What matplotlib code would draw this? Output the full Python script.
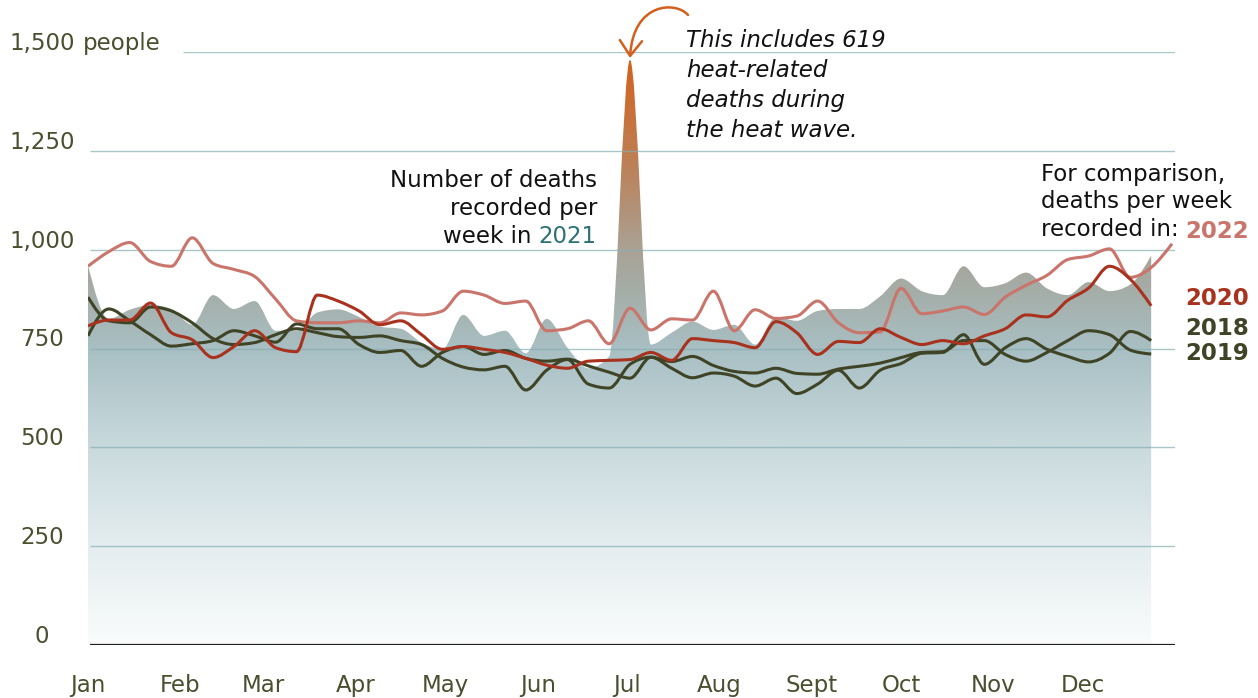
import numpy as np
import matplotlib.pyplot as plt
from matplotlib.path import Path
from matplotlib.patches import PathPatch, FancyArrowPatch
from matplotlib.colors import LinearSegmentedColormap
from matplotlib.transforms import IdentityTransform

plt.rcParams['font.family'] = ['DejaVu Sans']

W, H = 1258, 698

# x axis: day of year
months = ['Jan', 'Feb', 'Mar', 'Apr', 'May', 'Jun', 'Jul', 'Aug', 'Sept', 'Oct', 'Nov', 'Dec']
month_start = [0, 31, 59, 90, 120, 151, 181, 212, 243, 273, 304, 334]

y_ticks = [0, 250, 500, 750, 1000, 1250, 1500]
y_labels = ['0', '250', '500', '750', '1,000', '1,250', '1,500']

# weekly deaths
deaths_2021 = [960, 825, 848, 860, 850, 810, 885, 850, 870, 795, 795, 841, 849,
               830, 805, 800, 765, 748, 835, 782, 795, 738, 825, 752, 700, 730, 1480,
               760, 790, 818, 797, 810, 760, 830, 820, 845, 850, 850, 882,
               927, 895, 885, 958, 905, 915, 942, 902, 885, 918, 895, 912, 985]
deaths_2022 = [958, 995, 1018, 970, 958, 1030, 965, 950, 932, 875, 820, 815, 815,
               820, 815, 840, 835, 845, 895, 885, 864, 870, 795, 800, 820, 762, 852,
               797, 825, 822, 895, 795, 848, 826, 832, 870, 815, 790, 792,
               902, 838, 845, 855, 836, 880, 910, 935, 975, 984, 1002, 930, 955, 1015]
deaths_2020 = [807, 822, 822, 865, 790, 772, 727, 755, 795, 752, 742, 885, 870,
               845, 810, 820, 785, 748, 755, 748, 740, 725, 708, 700, 718, 720, 722,
               740, 720, 775, 770, 765, 752, 818, 790, 735, 768, 765, 800,
               778, 760, 770, 762, 782, 800, 835, 830, 872, 903, 958, 925, 858]
deaths_2018 = [782, 850, 820, 785, 756, 762, 770, 795, 782, 766, 812, 800, 800,
               760, 740, 745, 705, 740, 755, 735, 745, 725, 718, 723, 706, 690, 675,
               728, 700, 676, 688, 680, 655, 675, 636, 660, 695, 650, 695,
               712, 738, 740, 785, 710, 752, 775, 748, 730, 716, 738, 793, 770]
deaths_2019 = [880, 820, 815, 855, 845, 815, 775, 760, 765, 785, 800, 790, 780,
               778, 782, 770, 760, 725, 703, 696, 705, 645, 695, 722, 660, 650, 710,
               728, 717, 730, 707, 692, 688, 700, 687, 685, 698, 705, 713,
               727, 740, 742, 770, 770, 735, 718, 740, 770, 795, 785, 746, 736]

c2022 = '#c9756b'
c2020 = '#a8321e'
c_olive = '#3f4426'
c_tick = '#4b4e2f'
c_teal = '#2e7075'
c_orange = '#d35f1d'


def smooth(x, y):
    # monotone cubic curve through the points, as bezier segments
    x = np.asarray(x, float)
    y = np.asarray(y, float)
    n = len(x)
    h = np.diff(x)
    s = np.diff(y) / h
    m = np.zeros(n)
    for i in range(1, n - 1):
        s0, s1 = s[i - 1], s[i]
        p = (s0 * h[i] + s1 * h[i - 1]) / (h[i - 1] + h[i])
        m[i] = (np.sign(s0) + np.sign(s1)) * min(abs(s0), abs(s1), 0.5 * abs(p))
    m[0] = (3 * s[0] - m[1]) / 2
    m[-1] = (3 * s[-1] - m[-2]) / 2
    verts = [(x[0], y[0])]
    codes = [Path.MOVETO]
    for i in range(n - 1):
        d = h[i] / 3
        verts += [(x[i] + d, y[i] + m[i] * d), (x[i + 1] - d, y[i + 1] - m[i + 1] * d), (x[i + 1], y[i + 1])]
        codes += [Path.CURVE4] * 3
    return verts, codes


fig = plt.figure(figsize=(W / 100, H / 100), dpi=100)
ax = fig.add_axes([88 / W, 53 / H, (1175 - 88) / W, 593 / H])
ax.set_xlim(0, 365)
ax.set_ylim(0, 1500)
ax.axis('off')

# 2021 area with vertical gradient
x21 = 7 * np.arange(len(deaths_2021))
v, c = smooth(x21, deaths_2021)
v += [(x21[-1], 0), (x21[0], 0), (x21[0], deaths_2021[0])]
c += [Path.LINETO, Path.LINETO, Path.CLOSEPOLY]
area = PathPatch(Path(v, c), facecolor='none', edgecolor='none')
ax.add_patch(area)
cmap = LinearSegmentedColormap.from_list('heat', [
    (0.0, '#fafcfc'), (250 / 1500, '#e4edef'), (500 / 1500, '#c9dadd'),
    (750 / 1500, '#a8bfc3'), (900 / 1500, '#a5ada7'), (1000 / 1500, '#aaa295'),
    (1200 / 1500, '#ba835c'), (1.0, '#d65f18')])
grad = np.linspace(0, 1, 512).reshape(-1, 1)
im = ax.imshow(grad, extent=[0, 365, 0, 1500], origin='lower', aspect='auto',
               cmap=cmap, zorder=1)
im.set_clip_path(area)
ax.set_xlim(0, 365)
ax.set_ylim(0, 1500)

# gridlines
for t in y_ticks[1:]:
    start = 32 if t == 1500 else 0.7
    ax.hlines(t, start, 365, color='#86aeb4', alpha=0.7, lw=1, zorder=2)
ax.hlines(0, 0.7, 365, color='#1e1e1e', lw=1.6, zorder=4)

# comparison lines
for data, col in [(deaths_2022, c2022), (deaths_2018, c_olive),
                  (deaths_2019, c_olive), (deaths_2020, c2020)]:
    xs = 7 * np.arange(len(data))
    v, c = smooth(xs, data)
    ax.add_patch(PathPatch(Path(v, c), fill=False, edgecolor=col, lw=2.2,
                           capstyle='butt', zorder=3))

fs = 16.5
# y tick labels
for t, lab in zip(y_ticks, y_labels):
    ax.annotate(lab, xy=(42 / W, t), xycoords=('figure fraction', 'data'),
                xytext=(0, 1.5), textcoords='offset points', ha='center',
                va='baseline', fontsize=fs, color=c_tick, annotation_clip=False)
ax.annotate('people', xy=(83 / W, 1500), xycoords=('figure fraction', 'data'),
            xytext=(0, 1.5), textcoords='offset points', ha='left',
            va='baseline', fontsize=fs, color=c_tick, annotation_clip=False)

# month labels
for d, m in zip(month_start, months):
    ax.annotate(m, xy=(d, 0), xytext=(0, -47 * 0.72), textcoords='offset points',
                ha='center', va='baseline', fontsize=fs, color=c_tick,
                annotation_clip=False)


def ftext(x, y, s, **kw):
    return fig.text(x / W, 1 - y / H, s, va='baseline', fontsize=kw.pop('fontsize', fs), **kw)


# heat wave note
for i, line in enumerate(['This includes 619', 'heat-related', 'deaths during', 'the heat wave.']):
    ftext(686, 47 + 30 * i, line, style='italic', color='#111111')

# hooked arrow pointing at the spike (pixel coordinates)
hook = Path([(688, H - 15), (676, H - 1), (633, H - 2), (630, H - 58)],
            [Path.MOVETO, Path.CURVE4, Path.CURVE4, Path.CURVE4])
arrow = FancyArrowPatch(path=hook, transform=IdentityTransform(),
                        arrowstyle='->,head_length=0.55,head_width=0.4',
                        mutation_scale=20, color=c_orange, lw=1.8)
fig.add_artist(arrow)

# 2021 caption
ftext(597, 187, 'Number of deaths', ha='right', color='#111111')
ftext(597, 215, 'recorded per', ha='right', color='#111111')
t21 = ftext(597, 243, '2021', ha='right', color=c_teal)
fig.canvas.draw()
bb = t21.get_window_extent()
fig.text((bb.x0 - 7) / W, 1 - 243 / H, 'week in', ha='right', va='baseline',
         fontsize=fs, color='#111111')

# comparison caption
ftext(1041, 181, 'For comparison,', color='#111111')
ftext(1041, 208, 'deaths per week', color='#111111')
ftext(1041, 236, 'recorded in:', color='#111111')
ftext(1185, 238, '2022', color=c2022, weight='bold')
ftext(1185, 305, '2020', color=c2020, weight='bold')
ftext(1185, 335, '2018', color=c_olive, weight='bold')
ftext(1185, 360, '2019', color=c_olive, weight='bold')

fig.savefig('out.png', dpi=100)
